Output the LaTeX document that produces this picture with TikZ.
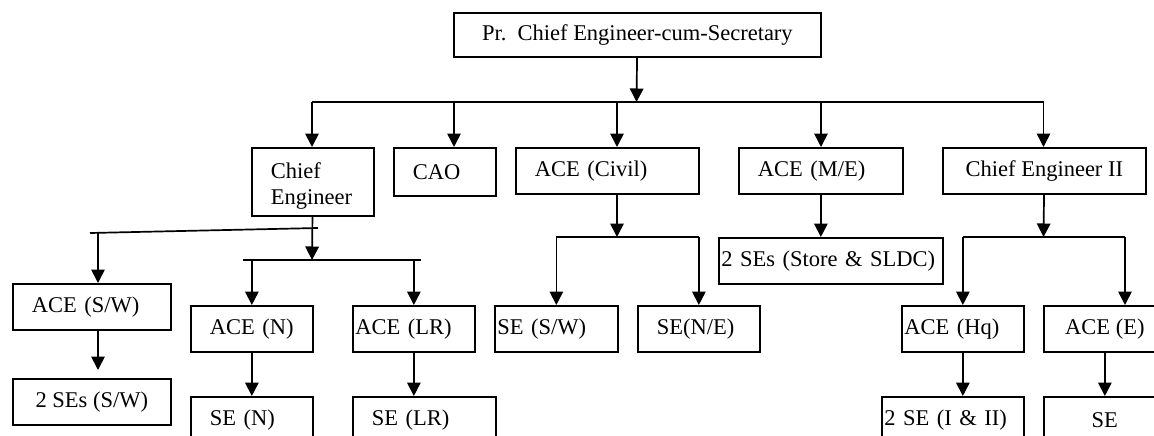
\documentclass[tikz,border=0pt]{standalone}
\usepackage{fontspec}
\setmainfont{Liberation Serif}
\usetikzlibrary{arrows.meta}

\begin{document}
\begin{tikzpicture}[x=1pt,y=-1pt,line width=1.7pt,>={Triangle[width=13.5pt,length=13.5pt]}]
  \clip (0,0) rectangle (1154,436);

  \tikzstyle{every edge}=[draw,->]
  \tikzstyle{every node}=[font=\fontsize{22.5}{26}\selectfont]
  \tikzstyle{box}=[draw,anchor=north west,minimum height=46pt,inner ysep=0pt]
  \tikzstyle{pad}=[box,inner xsep=19pt,align=left]
  \tikzstyle{nopad}=[box,inner xsep=2.5pt,align=left]

  % top
  \node[box,minimum width=367pt,minimum height=44pt] (pce) at (453,12) {Pr.\ \ Chief Engineer-cum-Secretary};

  % first level
  \node[pad,text width=84pt,minimum height=68pt,text depth=23pt] (ce) at (251,147) {Chief\\Engineer};
  \node[pad,text width=64pt,minimum height=48pt] (cao) at (393,147) {CAO};
  \node[pad,text width=145pt] (civil) at (515,147) {ACE (Civil)};
  \node[pad,text width=126pt] (me) at (738,147) {ACE (M/E)};
  \node[box,minimum width=203pt] (ceii) at (942,147) {Chief Engineer II};

  % under chief engineer
  \node[pad,text width=120pt] (acesw) at (12,283) {ACE (S/W)};
  \node[box,minimum width=158pt] (sesw2) at (12,378) {2 SEs (S/W)};
  \node[pad,text width=84pt] (acen) at (190,305) {ACE (N)};
  \node[pad,text width=84pt] (sen) at (190,396) {SE (N)};
  \node[nopad,text width=117pt] (acelr) at (352,305) {ACE (LR)};
  \node[pad,text width=105pt] (selr) at (352,396) {SE (LR)};

  % under ACE (Civil)
  \node[nopad,text width=118pt] (sesw) at (494,305) {SE (S/W)};
  \node[pad,text width=84pt] (sene) at (637,305) {SE(N/E)};

  % under ACE (M/E)
  \node[nopad,text width=219pt] (ses) at (718,237) {2 SEs (Store \& SLDC)};

  % under chief engineer II
  \node[nopad,text width=117pt] (acehq) at (901,305) {ACE (Hq)};
  \node[box,minimum width=122pt] (acee) at (1043,305) {ACE (E)};
  \node[nopad,text width=137pt] (seiii) at (881,396) {2 SE (I \& II)};
  \node[box,minimum width=122pt] (se) at (1043,396) {SE};

  % top links
  \coordinate (bpce) at (636.5,102);
  \path (pce) edge (bpce);
  \foreach \x/\n in {312/ce,454/cao,617/civil,821/me,1043.5/ceii}{
    \coordinate (t\n) at (\x,102);
    \path (t\n) edge (t\n |- \n.north);
  }
  \draw (tce) -- (tceii);

  % chief engineer links
  \coordinate (l1) at (90,233);
  \coordinate (l2) at (318,228);
  \draw (l1) -- (l2);
  \coordinate (j0) at (243,260);
  \coordinate (j1) at (312,260);
  \coordinate (j2) at (421,260);
  \path (ce) edge (j1);
  \draw (j0) -- (j2);
  \coordinate (k1) at (98,232.8);
  \path (k1) edge (k1 |- acesw.north);
  \path (acen.north |- j1) edge (acen);
  \path (acelr.north |- j1) edge (acelr);
  \path (acesw.south -| k1) edge[shorten >=8pt] (sesw2.north -| k1);
  \path (acen) edge (sen);
  \path (acelr) edge (acelr |- selr.north);

  % ACE (Civil) links
  \coordinate (bcivil) at (617,237);
  \path (civil.south -| bcivil) edge (bcivil);
  \draw (bcivil -| sesw) -- (bcivil -| sene);
  \path (bcivil -| sesw) edge (sesw);
  \path (bcivil -| sene) edge (sene);

  % ACE (M/E) link
  \path (me) edge (me |- ses.north);

  % chief engineer II links
  \coordinate (bceii) at (1043.5,237);
  \coordinate (bacee) at (1125,237);
  \path (ceii) edge (bceii);
  \draw (bceii -| acehq) -- (bacee);
  \path (bceii -| acehq) edge (acehq);
  \path (bacee) edge (bacee |- acee.north);
  \path (acehq) edge (acehq |- seiii.north);
  \path (acee) edge (se);
\end{tikzpicture}
\end{document}
